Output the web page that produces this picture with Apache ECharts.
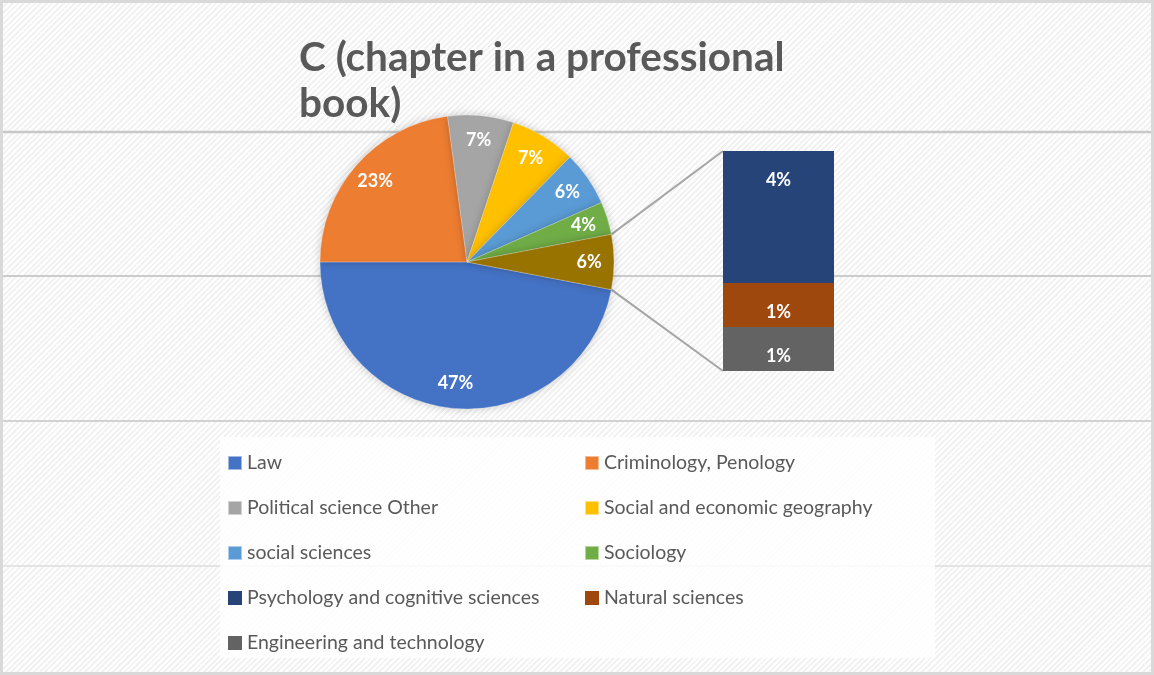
<!DOCTYPE html>
<html>
<head>
<meta charset="utf-8">
<script src="https://cdn.jsdelivr.net/npm/echarts@6/dist/echarts.min.js"></script>
<style>
  html, body { margin: 0; padding: 0; }
  #chart {
    width: 1154px; height: 675px; box-sizing: border-box;
    border: 3px solid #d9d9d9;
    background: repeating-linear-gradient(135deg, #ffffff 0 2px, #f2f2f2 2px 4px);
  }
</style>
</head>
<body>
<div id="chart"></div>
<script>
// pie slices (counts)
const pieNames = ['Law', 'Criminology, Penology', 'Political science Other',
  'Social and economic geography', 'social sciences', 'Sociology'];
const pieValues = [39, 19, 6, 6, 5, 3];
const pieColors = ['#4472C4', '#ED7D31', '#A5A5A5', '#FFC000', '#5B9BD5', '#70AD47'];
const otherColor = '#997300';

// split-out bar (the "Other" slice), bottom to top
const barNames = ['Engineering and technology', 'Natural sciences', 'Psychology and cognitive sciences'];
const barValues = [1, 1, 3];
const barColors = ['#636363', '#9E480E', '#264478'];

const legendCol1 = ['Law', 'Political science Other', 'social sciences',
  'Psychology and cognitive sciences', 'Engineering and technology'];
const legendCol2 = ['Criminology, Penology', 'Social and economic geography', 'Sociology', 'Natural sciences'];

const otherSum = barValues.reduce((a, b) => a + b, 0);
const total = pieValues.reduce((a, b) => a + b, 0) + otherSum;
const pct = v => Math.round(v / total * 100) + '%';

const cx = 467, cy = 262, R = 147;
const half = otherSum / total * 180;           // half angle of the Other slice
const barLeft = 723, barTop = 151, barW = 111, barH = 220;

const pieData = pieNames.map((n, i) => ({ name: n, value: pieValues[i], itemStyle: { color: pieColors[i] } }));
pieData.push({ name: 'Other', value: otherSum, itemStyle: { color: otherColor } });

const rad = half * Math.PI / 180;
const px = cx + R * Math.cos(rad), py1 = cy - R * Math.sin(rad), py2 = cy + R * Math.sin(rad);

const font = 'Lato, "Liberation Sans", sans-serif';
let chart = echarts.init(document.getElementById('chart'));

let legendBase = {
  orient: 'vertical',
  icon: 'rect',
  itemWidth: 14,
  itemHeight: 14,
  itemGap: 25,
  top: 445,
  textStyle: { color: '#595959', fontSize: 19.5, fontFamily: font, lineHeight: 20, padding: [0, 0, 0, 0] },
  selectedMode: false
};

let option = {
  backgroundColor: 'transparent',
  animation: false,
  title: {
    text: 'C (chapter in a professional\nbook)',
    left: 291,
    top: 27,
    textStyle: { color: '#595959', fontSize: 40.5, fontWeight: 'bold', fontFamily: font, lineHeight: 46 }
  },
  legend: [
    Object.assign({}, legendBase, { left: 219, data: legendCol1 }),
    Object.assign({}, legendBase, { left: 576, data: legendCol2 })
  ],
  grid: { left: barLeft - 3, top: barTop - 3, width: barW, height: barH },
  xAxis: { type: 'category', data: ['Other'], show: false },
  yAxis: { type: 'value', min: 0, max: otherSum, show: false },
  graphic: [
    { type: 'line', silent: true, z: -10, shape: { x1: 0, y1: 129, x2: 1150, y2: 129 }, style: { stroke: '#c8c8c8', lineWidth: 2.5 } },
    { type: 'line', silent: true, z: -10, shape: { x1: 0, y1: 273, x2: 1150, y2: 273 }, style: { stroke: '#cbcbcb', lineWidth: 2 } },
    { type: 'line', silent: true, z: -10, shape: { x1: 0, y1: 418, x2: 1150, y2: 418 }, style: { stroke: '#d2d2d2', lineWidth: 2 } },
    { type: 'line', silent: true, z: -10, shape: { x1: 0, y1: 563, x2: 1150, y2: 563 }, style: { stroke: '#e4e4e4', lineWidth: 2 } },
    { type: 'rect', silent: true, z: -5, shape: { x: 217, y: 434, width: 715, height: 221 }, style: { fill: 'rgba(255,255,255,0.85)' } },
    { type: 'line', silent: true, z: 1, shape: { x1: px - 3, y1: py1 - 3, x2: barLeft - 3, y2: barTop - 3 }, style: { stroke: '#a5a5a5', lineWidth: 2 } },
    { type: 'line', silent: true, z: 1, shape: { x1: px - 3, y1: py2 - 3, x2: barLeft - 3, y2: barTop + barH - 3 }, style: { stroke: '#a5a5a5', lineWidth: 2 } }
  ],
  series: [
    {
      type: 'pie',
      center: [cx - 3, cy - 3],
      radius: [0, R],
      startAngle: 360 - half,
      clockwise: true,
      avoidLabelOverlap: false,
      label: { show: false },
      labelLine: { show: false },
      itemStyle: { borderColor: 'rgba(255,255,255,0.5)', borderWidth: 0.5, shadowBlur: 10, shadowColor: 'rgba(0,0,0,0.2)' },
      data: pieData
    },
    {
      // label ring only, puts the percent labels out near the rim
      type: 'pie',
      silent: true,
      center: [cx - 3, cy - 3],
      radius: [R * 0.62, R],
      startAngle: 360 - half,
      clockwise: true,
      avoidLabelOverlap: false,
      itemStyle: { color: 'rgba(0,0,0,0)' },
      labelLine: { show: false },
      label: {
        show: true, position: 'inside', color: '#fff', fontSize: 18, fontWeight: 'bold', fontFamily: font,
        formatter: p => pct(p.value)
      },
      data: pieData.map(d => ({ name: d.name, value: d.value }))
    }
  ].concat(barNames.map((n, i) => ({
    name: n,
    type: 'bar',
    stack: 'other',
    barWidth: '100%',
    itemStyle: { color: barColors[i] },
    label: {
      show: true, position: 'insideTop', distance: 20, color: '#fff', fontSize: 18, fontWeight: 'bold', fontFamily: font,
      formatter: p => pct(p.value)
    },
    data: [barValues[i]]
  })))
};

chart.setOption(option);
</script>
</body>
</html>
